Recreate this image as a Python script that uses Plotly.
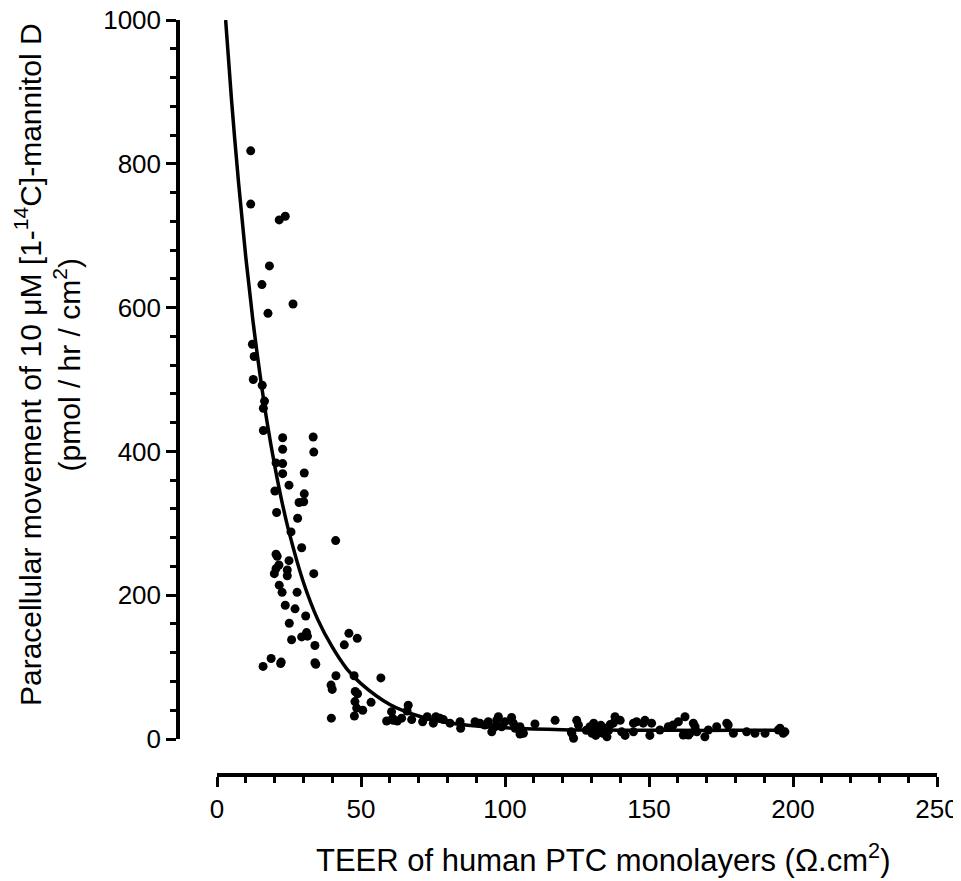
import plotly.graph_objects as go

# Scatter data: TEER (Ohm.cm2) vs paracellular mannitol movement (pmol/hr/cm2)
teer = [11.7, 11.7, 21.6, 23.7, 18.2, 15.6, 26.4, 17.7,
        12.3, 12.9, 12.6, 15.7, 16.5, 16.1, 16.1,
        22.8, 33.4, 22.8, 33.6, 20.5, 22.8, 22.8, 30.3,
        25.0, 20.1, 30.3, 28.5, 30.1, 20.7, 28.0,
        41.2, 29.4, 25.7, 20.5, 20.9, 25.0, 21.5, 20.5, 24.4, 19.9, 24.4, 33.6, 21.6, 22.6, 27.8,
        23.7, 27.1, 30.8, 25.1, 31.1, 29.4, 31.4, 25.9, 34.0, 45.8, 48.7, 44.2, 18.8, 22.3, 22.1,
        16.0, 34.0, 34.3, 41.3, 47.6, 56.9, 39.6, 40.0, 48.0, 48.8, 47.9, 53.5, 48.5, 50.6, 39.7,
        47.7, 60.6, 58.9, 61.2, 62.6, 61.0, 64.1, 66.4, 66.0, 67.6, 71.4, 73.0, 75.1, 76.0,
        77.4, 78.6, 80.9, 84.4, 84.6, 89.6, 91.3, 93.0, 94.2, 95.4, 97.1, 97.7, 96.5, 98.8, 100.0,
        102.3, 102.9, 103.5, 105.2, 105.2, 106.4, 110.4, 117.4, 123.2, 123.8, 123.0, 124.9, 125.5,
        128.2, 129.5, 130.2, 130.8, 131.5, 132.0, 132.6, 133.3, 134.0, 134.5, 135.4, 136.0, 136.5,
        137.6, 138.2, 140.0, 140.5, 141.7, 144.6, 144.6, 145.7, 148.0, 148.6, 150.9, 150.3, 153.8,
        156.7, 158.4, 160.2, 162.5, 161.9, 164.2, 165.4, 166.0, 166.6, 169.4, 170.6, 173.5, 177.0,
        177.5, 179.3, 183.9, 186.8, 190.3, 194.9, 196.6, 195.5, 197.2, 163.7, 157.8]
mannitol = [818, 744, 722, 727, 658, 632, 605, 592,
            549, 532, 500, 492, 470, 460, 429,
            419, 420, 403, 399, 384, 383, 369, 370,
            353, 345, 341, 329, 330, 315, 307,
            276, 266, 288, 257, 254, 248, 242, 237, 235, 230, 227, 230, 214, 204, 204,
            186, 181, 171, 161, 148, 142, 143, 138, 130, 147, 140, 131, 112, 107, 105,
            101, 106, 104, 88, 88, 85, 75, 69, 66, 63, 52, 51, 43, 40, 29,
            32, 38, 25, 26, 25, 29, 29, 47, 39, 27, 24, 31, 22, 31,
            29, 27, 22, 24, 15, 24, 22, 19.5, 24, 10, 26, 31, 17, 17, 24,
            30, 22, 15, 17, 7, 8, 21, 26, 8, 1, 10, 26, 19.5,
            12, 17, 8, 22, 5, 14, 10, 19, 8, 15, 3, 12, 20,
            22, 31, 26, 10, 5, 10, 22, 24, 22, 26, 22, 5, 12.5,
            17, 19.5, 24, 31, 5.5, 8, 22, 17, 10, 3, 12.5, 17, 22,
            19.5, 8, 10, 8, 8, 12.5, 8, 15, 10, 5.5, 17]

# Fitted curve
fit_teer = [3, 5, 7.5, 10, 12.5, 15, 17.5, 20, 22.5, 25, 30, 35, 40, 45, 50,
            60, 70, 80, 90, 100, 120, 140, 160, 180, 198]
fit_mannitol = [1000, 891, 773, 670, 581, 505, 438, 381, 331, 288, 218, 166, 128, 98, 77,
                48, 32, 23, 18, 15.5, 13, 12.3, 12, 12, 12]

x_ticks = [0, 50, 100, 150, 200, 250]
y_ticks = [0, 200, 400, 600, 800, 1000]

FONT = "Liberation Sans, Arial, sans-serif"

# page body has an 8px default margin; work in screen pixels and convert
OFF = 8
W, H = 961 - OFF, 881 - OFF

yaxis_px = 178 - OFF      # y-axis line (screen x 178)
xaxis_px = 775 - OFF      # x-axis line (screen y 775)
x0_px = 217 - OFF         # x = 0
x250_px = 937 - OFF       # x = 250
y1000_px = 20 - OFF       # y = 1000
y0_px = 739 - OFF         # y = 0

ml, mr, mt, mb = yaxis_px, W - x250_px, y1000_px, H - xaxis_px
pw = W - ml - mr
ph = H - mt - mb

fig = go.Figure()
fig.add_trace(go.Scatter(x=fit_teer, y=fit_mannitol, mode="lines",
                         line=dict(color="black", width=3.5, shape="spline"),
                         cliponaxis=False, showlegend=False))
fig.add_trace(go.Scatter(x=teer, y=mannitol, mode="markers",
                         marker=dict(color="black", size=9, line=dict(width=0)),
                         cliponaxis=False, showlegend=False))

fig.update_layout(
    width=W, height=H,
    margin=dict(l=ml, r=mr, t=mt, b=mb, autoexpand=False),
    paper_bgcolor="white", plot_bgcolor="white",
    font=dict(family=FONT, color="black", size=26),
    xaxis=dict(domain=[(x0_px - ml) / pw, 1], range=[0, 250], anchor="free", position=0,
               automargin=False, ticklabeloverflow="allow",
               showline=True, linewidth=3.5, linecolor="black", mirror=False,
               ticks="outside", ticklen=10, tickwidth=3, tickcolor="black",
               tickvals=x_ticks, ticktext=[str(v) for v in x_ticks],
               minor=dict(ticks="outside", ticklen=6, tickwidth=3, tickcolor="black", dtick=10, showgrid=False),
               showgrid=False, zeroline=False, tickfont=dict(size=26, family=FONT)),
    yaxis=dict(domain=[(H - mb - y0_px) / ph, 1], range=[0, 1000], anchor="free", position=0,
               automargin=False, ticklabeloverflow="allow",
               showline=True, linewidth=3.5, linecolor="black",
               ticks="outside", ticklen=10, tickwidth=3, tickcolor="black",
               tickvals=y_ticks, ticktext=[str(v) for v in y_ticks],
               minor=dict(ticks="outside", ticklen=6, tickwidth=3, tickcolor="black", dtick=40, showgrid=False),
               showgrid=False, zeroline=False, tickfont=dict(size=26, family=FONT)),
)

def px_to_paper_x(sx):
    return (sx - OFF - ml) / pw

def px_to_paper_y(sy):
    return (H - mb - (sy - OFF)) / ph

fig.add_annotation(
    text="TEER of human PTC monolayers (Ω.cm<sup>2</sup>)",
    xref="paper", yref="paper", x=px_to_paper_x(603), y=px_to_paper_y(858),
    xanchor="center", yanchor="middle", showarrow=False,
    font=dict(size=31, family=FONT, color="black"))
fig.add_annotation(
    text="Paracellular movement of 10 μM [1-<sup>14</sup>C]-mannitol D<br>(pmol / hr / cm<sup>2</sup>)",
    xref="paper", yref="paper", x=px_to_paper_x(47), y=px_to_paper_y(365),
    xanchor="center", yanchor="middle", textangle=-90, showarrow=False,
    font=dict(size=30, family=FONT, color="black"))

fig.write_html("out.html")
